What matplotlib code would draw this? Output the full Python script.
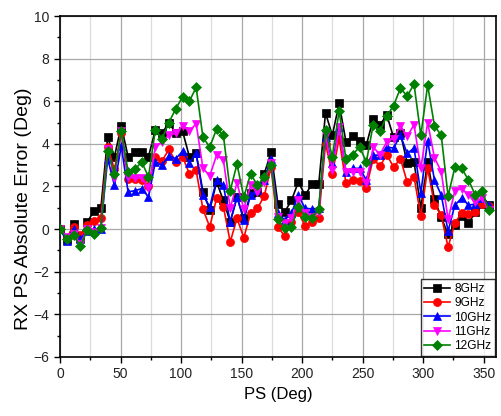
import numpy as np
import matplotlib
matplotlib.use("Agg")
import matplotlib.pyplot as plt
from matplotlib.ticker import MultipleLocator

plt.rcParams['font.family'] = ['Liberation Sans', 'DejaVu Sans']

step = 5.625
ps = [i * step for i in range(64)]

labels = ["8GHz", "9GHz", "10GHz", "11GHz", "12GHz"]

err_8 = [0, -0.5, 0.23, -0.4, 0.33, 0.85, 0.97, 4.3, 3.4, 4.85,
         3.4, 3.6, 3.6, 3.4, 4.65, 4.5, 5.0, 4.5, 4.6, 3.4,
         3.55, 1.75, 0.9, 2.2, 1.35, 0.33, 1.5, 0.5, 1.7, 1.75,
         2.6, 3.6, 1.2, 0.8, 1.35, 2.2, 1.6, 2.1, 2.1, 5.45,
         4.4, 5.9, 4.1, 4.35, 4.15, 3.95, 5.15, 4.9, 5.35, 4.3,
         4.5, 3.1, 3.15, 1.0, 3.15, 1.4, 0.55, -0.25, 0.2, 0.6,
         0.27, 0.8, 1.2, 1.15]
err_9 = [0, -0.4, 0.1, -0.3, 0.2, 0.4, 0.5, 3.85, 2.8, 4.5,
         2.35, 2.35, 2.3, 2.0, 3.4, 3.2, 3.75, 3.15, 3.4, 2.6,
         2.75, 0.93, 0.1, 1.45, 1.05, -0.6, 0.5, -0.4, 0.75, 0.97,
         1.55, 2.9, 0.1, -0.33, 0.33, 0.8, 0.15, 0.33, 0.5, 4.0,
         2.6, 4.25, 2.15, 2.3, 2.25, 1.95, 3.3, 2.95, 3.5, 2.9,
         3.3, 2.2, 2.45, 0.6, 2.85, 1.15, 0.65, -0.85, 0.3, 0.75,
         0.7, 0.8, 1.2, 1.1]
err_10 = [0, -0.55, 0, -0.45, -0.1, 0, 0, 3.3, 2.05, 3.9,
          1.75, 1.8, 1.9, 1.5, 3.15, 3.0, 3.45, 3.3, 3.65, 3.1,
          3.55, 1.6, 1.05, 2.3, 2.05, 0.33, 1.5, 0.42, 1.6, 1.83,
          2.3, 3.3, 0.75, 0.42, 0.75, 1.6, 0.97, 0.95, 0.97, 4.3,
          3.1, 4.8, 2.7, 2.85, 2.85, 2.3, 3.47, 3.47, 3.85, 3.8,
          4.4, 3.55, 3.8, 1.7, 4.15, 2.3, 1.6, -0.1, 1.13, 1.45,
          1.13, 1.17, 1.45, 1.15]
err_11 = [0, -0.35, -0.25, -0.7, 0, -0.15, 0.07, 3.75, 2.4, 4.6,
          2.45, 2.4, 2.4, 1.95, 3.85, 4.1, 4.4, 4.5, 4.85, 4.6,
          4.95, 2.85, 2.5, 3.47, 3.25, 0.97, 2.17, 0.95, 2.05, 1.75,
          2.2, 3.1, 0.58, 0.27, 0.5, 1.35, 0.75, 0.58, 0.8, 4.4,
          2.77, 4.8, 2.7, 2.7, 2.7, 2.17, 3.85, 3.5, 4.1, 4.25,
          4.85, 4.35, 4.9, 2.85, 5.0, 3.35, 2.7, 0.45, 1.8, 1.9,
          1.6, 1.25, 1.45, 0.9]
err_12 = [0, -0.45, -0.3, -0.8, -0.05, -0.25, 0.05, 3.65, 2.6, 4.6,
          2.7, 2.8, 3.15, 2.45, 4.65, 4.25, 5.0, 5.65, 6.2, 6.0,
          6.65, 4.3, 3.85, 4.7, 4.4, 1.8, 3.05, 1.5, 2.6, 2.05,
          2.45, 3.0, 0.45, 0.05, 0.1, 1.05, 0.58, 0.5, 0.95, 4.65,
          3.4, 5.55, 3.27, 3.5, 3.85, 3.15, 4.9, 4.6, 5.3, 5.8,
          6.6, 6.25, 6.8, 4.4, 6.75, 4.85, 4.4, 1.55, 2.9, 2.85,
          2.3, 1.6, 1.8, 0.9]

series = [err_8, err_9, err_10, err_11, err_12]
colors = ["#000000", "#FF0000", "#0000FF", "#FF00FF", "#008000"]
markers = ["s", "o", "^", "v", "D"]
msizes = [5.4, 5.8, 5.8, 5.8, 5.2]

fig = plt.figure(figsize=(5.02, 4.16), dpi=100)
ax = fig.add_axes([0.1195, 0.142, 0.868, 0.8195])

for y, c, m, ms, lab in zip(series, colors, markers, msizes, labels):
    ax.plot(ps, y, color=c, marker=m, markersize=ms, linewidth=1.2,
            markeredgewidth=0.5, markeredgecolor=c, label=lab, zorder=3)

ax.set_xlim(0, 360)
ax.set_ylim(-6, 10)
ax.xaxis.set_major_locator(MultipleLocator(50))
ax.xaxis.set_minor_locator(MultipleLocator(25))
ax.yaxis.set_major_locator(MultipleLocator(2))
ax.yaxis.set_minor_locator(MultipleLocator(1))

ax.grid(True, which='major', color='#A8A8A8', linewidth=0.9, zorder=0)
ax.grid(True, which='minor', axis='x', color='#DCDCDC', linewidth=0.9, zorder=0)
ax.set_axisbelow(True)

ax.tick_params(which='major', direction='out', length=4, width=1.0,
               labelsize=10, labelcolor='#222222')
ax.tick_params(which='minor', direction='out', length=2.5, width=1.0)
for s in ax.spines.values():
    s.set_linewidth(1.2)

ax.set_xlabel("PS (Deg)", fontsize=12, labelpad=4)
ax.set_ylabel("RX PS Absolute Error (Deg)", fontsize=14, labelpad=6)
ax.yaxis.set_label_coords(-0.064, 0.434)

leg = ax.legend(loc='lower right', fontsize=8.6, frameon=True, fancybox=False,
                edgecolor='black', borderpad=0.3, labelspacing=0.2,
                handlelength=2.2, handletextpad=0.3, borderaxespad=0.08)
leg.get_frame().set_linewidth(1.0)

fig.savefig("out.png", dpi=100)
